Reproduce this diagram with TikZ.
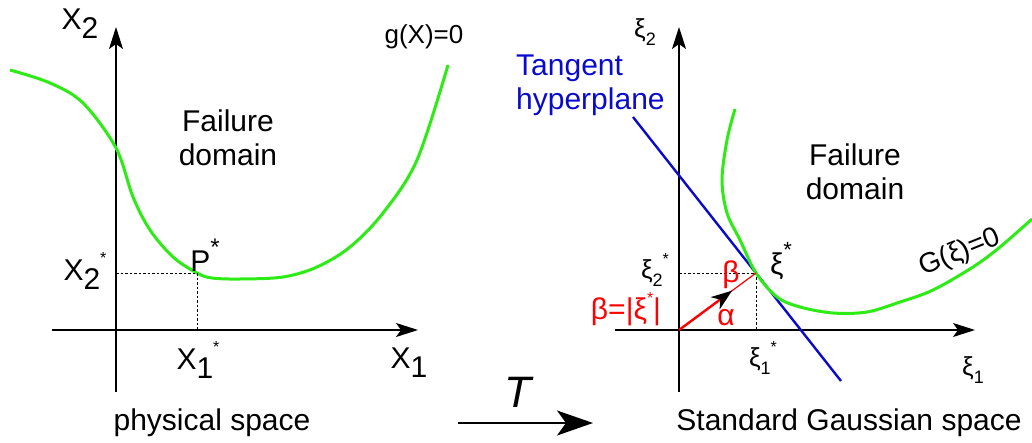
\documentclass[tikz,border=0pt]{standalone}
\usepackage{fontspec}
\setmainfont{Liberation Sans}
\usetikzlibrary{arrows.meta,calc}
\definecolor{curvegreen}{RGB}{45,235,20}
\definecolor{planeblue}{RGB}{10,10,205}
% lowered index digit and small raised star
\newcommand{\lo}[2][30]{\raisebox{-0.3em}{\fontsize{#1}{#1}\selectfont #2}}
\newcommand{\astk}[1][16]{\raisebox{0.55em}{\fontsize{#1}{#1}\selectfont *}}

\begin{document}
\begin{tikzpicture}[x=1pt,y=1pt,font=\fontsize{30}{34}\selectfont,
  axis/.style={line width=1.4pt,-{Stealth[length=22pt,width=14pt,inset=5pt]}},
  guide/.style={line width=0.9pt,dash pattern=on 2.5pt off 2pt},
  gcurve/.style={curvegreen,line width=3pt},
  lbl/.style={inner sep=0pt}]
\useasboundingbox (0,0) rectangle (1032,442);

% physical space
\coordinate (o1) at (116,112);
\coordinate (xa) at (52,112);
\coordinate (xb) at (418,112);
\coordinate (ya) at (116,50);
\coordinate (yb) at (116,415);
\coordinate (P) at (197,169);
\draw[axis] (xa) -- (xb);
\draw[axis] (ya) -- (yb);
\draw[gcurve] plot[smooth,tension=0.55] coordinates {(10,372) (50,359) (83,339) (116,294) (133,245) (150,212) (173,185) (197,169) (212,164) (240,163) (283,165) (317,175) (350,195) (383,229) (417,282) (448,377)};
\draw[guide] (P -| o1) -- (P) -- (P |- o1);
\node[lbl] (lX2) at (80,418) {X\lo{2}};
\node[lbl] (lg) at (424,405) {\fontsize{26}{30}\selectfont g(X)=0};
\node[lbl,align=center] (fd1) at (228,304) {Failure\\domain};
\node[lbl] (lP) at (205,187) {P\astk[24]};
\node[lbl] (lX2s) at (85,171) {X\lo{2}\astk};
\node[lbl] (lX1s) at (198,82) {X\lo{1}\astk};
\node[lbl] (lX1) at (409,79) {X\lo{1}};
\node[lbl] (ps) at (212,19) {physical space};

% mapping T
\coordinate (ta) at (458,19);
\coordinate (tb) at (593,19);
\draw[line width=1.6pt,-{Stealth[length=36pt,width=25pt,inset=9pt]}] (ta) -- (tb);
\node[lbl] (lT) at (518,50) {\fontsize{44}{48}\selectfont\itshape T};

% standard Gaussian space
\coordinate (o2) at (679,112);
\coordinate (ua) at (615,112);
\coordinate (ub) at (975,112);
\coordinate (va) at (679,50);
\coordinate (vb) at (679,415);
\coordinate (xs) at (756,169);
\coordinate (ha) at (633,325);
\coordinate (hb) at (841,61);
\draw[axis] (ua) -- (ub);
\draw[axis] (va) -- (vb);
\draw[guide] (xs -| o2) -- (xs) -- (xs |- o2);
\draw[planeblue,line width=2.4pt] (ha) -- (hb);
\draw[gcurve] plot[smooth,tension=0.55] coordinates {(735,333) (727,302) (722,262) (727,229) (740,202) (756,169) (777,145) (800,135) (833,129) (867,130) (900,140) (933,152) (973,175) (1000,195) (1032,223)};
\draw[red,line width=1.2pt] ($(o2)!0.66!(xs)$) -- (xs);
\draw[red,line width=2.4pt,-{Stealth[black,length=21pt,width=15pt,inset=6pt]}] (o2) -- ($(o2)!0.69!(xs)$);

\node[lbl] (lxi2) at (645,410) {\fontsize{26}{30}\selectfont ξ\lo[18]{2}};
\node[lbl,anchor=west,align=left,text=planeblue] (tang) at (516,357) {Tangent\\hyperplane};
\node[lbl,align=center] (fd2) at (855,270) {Failure\\domain};
\node[lbl,rotate=22] (lG) at (960,189) {\fontsize{28}{32}\selectfont G(ξ)=0};
\node[lbl] (lxs) at (781,181) {ξ\astk[22]};
\node[lbl] (lxi2s) at (655,172) {\fontsize{26}{30}\selectfont ξ\lo[18]{2}\astk};
\node[lbl] (lxi1s) at (763,84) {\fontsize{26}{30}\selectfont ξ\lo[18]{1}\astk};
\node[lbl] (lxi1) at (973,72) {\fontsize{26}{30}\selectfont ξ\lo[18]{1}};
\node[lbl,text=red] (lbeta) at (731,167) {β};
\node[lbl,text=red] (lalpha) at (726,124) {α};
\node[lbl,text=red] (lnorm) at (626,133) {β=|ξ\astk|};
\node[lbl] (gs) at (849,19) {Standard Gaussian space};
\end{tikzpicture}
\end{document}
